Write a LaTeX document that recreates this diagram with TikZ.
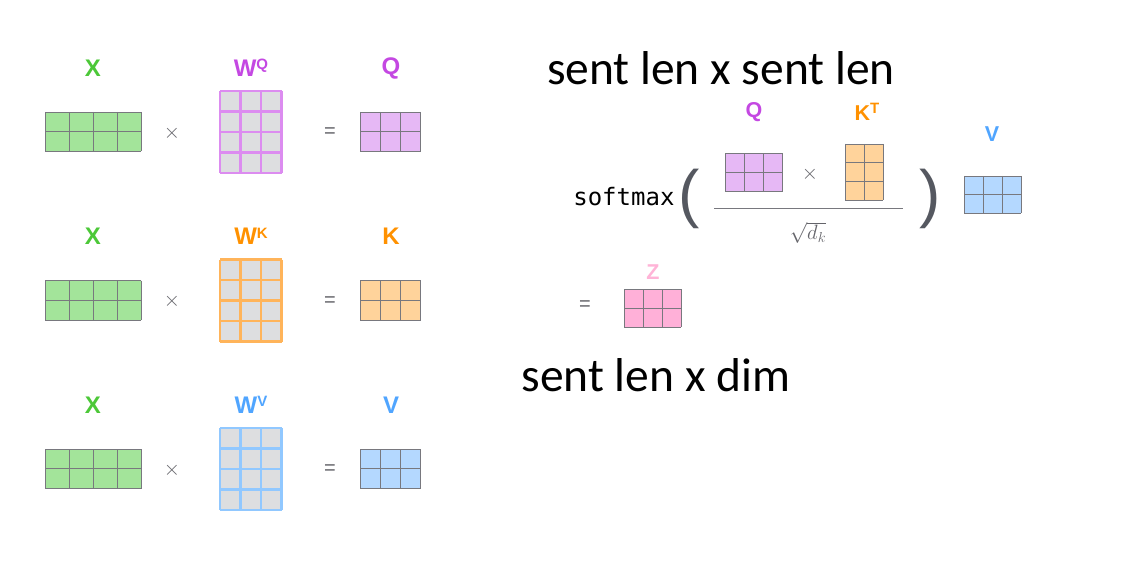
\documentclass[tikz,border=0pt]{standalone}
\usepackage{fontspec}
\setmainfont{Liberation Sans}
\setmonofont{DejaVu Sans Mono}
\newfontfamily\calfont{Carlito}

\definecolor{greenlab}{RGB}{76,200,56}
\definecolor{greenfill}{RGB}{163,228,154}
\definecolor{purplelab}{RGB}{196,72,226}
\definecolor{purplefill}{RGB}{230,184,245}
\definecolor{purpleline}{RGB}{220,140,240}
\definecolor{orangelab}{RGB}{255,145,0}
\definecolor{orangefill}{RGB}{255,211,155}
\definecolor{orangeline}{RGB}{255,180,90}
\definecolor{bluelab}{RGB}{80,165,255}
\definecolor{bluefill}{RGB}{180,216,255}
\definecolor{blueline}{RGB}{145,200,255}
\definecolor{pinklab}{RGB}{255,180,215}
\definecolor{pinkfill}{RGB}{255,176,216}
\definecolor{cellgray}{RGB}{221,222,224}
\definecolor{gridgray}{RGB}{120,120,126}
\definecolor{opgray}{RGB}{100,100,106}
\definecolor{parengray}{RGB}{85,88,96}

% grid of cells: x, y, cols, rows, cell width, cell height, fill, line style
\newcommand{\cellgrid}[8]{%
  \fill[#7] (#1,#2) rectangle ++(#3*#5,#4*#6);
  \foreach \i in {0,...,#3} \draw[#8] (#1+\i*#5,#2) -- ++(0,#4*#6);
  \foreach \j in {0,...,#4} \draw[#8] (#1,#2+\j*#6) -- ++(#3*#5,0);
}

\tikzset{
  biglab/.style={font=\fontsize{24}{24}\selectfont\bfseries},
  smalllab/.style={font=\fontsize{21.5}{21.5}\selectfont\bfseries},
  oper/.style={text=opgray, font=\fontsize{20}{20}\selectfont},
  paren/.style={text=parengray, font=\fontsize{64}{64}\selectfont},
  datagrid/.style={gridgray, line width=0.9pt},
  weightgrid/.style={line width=2.4pt}
}

\newcommand{\supr}[1]{\raisebox{6.5pt}{\fontsize{15}{15}\selectfont #1}}

\begin{document}
\begin{tikzpicture}[x=1pt, y=-1pt]
\useasboundingbox (0,0) rectangle (1131,564);

% Row 1: X times WQ
\node[biglab, text=greenlab] (x1) at (93,68) {X};
\node[biglab, text=purplelab] (wq) at (251,68) {W\supr{Q}};
\node[biglab, text=purplelab] (q1) at (391,68) {Q};
\cellgrid{45}{112}{4}{2}{24}{19.75}{greenfill}{datagrid}
\node[oper] (times1) at (172,133) {$\times$};
\cellgrid{220}{91}{3}{4}{20.5}{20.5}{cellgray}{weightgrid, purpleline}
\node[oper] (eq1) at (330,133) {=};
\cellgrid{360}{112}{3}{2}{20.2}{19.75}{purplefill}{datagrid}

% Row 2: X times WK
\node[biglab, text=greenlab] (x2) at (93,236.5) {X};
\node[biglab, text=orangelab] (wk) at (251,236.5) {W\supr{K}};
\node[biglab, text=orangelab] (k2) at (391,236.5) {K};
\cellgrid{45}{280.5}{4}{2}{24}{19.75}{greenfill}{datagrid}
\node[oper] (times2) at (172,301.5) {$\times$};
\cellgrid{220}{259.5}{3}{4}{20.5}{20.5}{cellgray}{weightgrid, orangeline}
\node[oper] (eq2) at (330,301.5) {=};
\cellgrid{360}{280.5}{3}{2}{20.2}{19.75}{orangefill}{datagrid}

% Row 3: X times WV
\node[biglab, text=greenlab] (x3) at (93,405) {X};
\node[biglab, text=bluelab] (wv) at (251,405) {W\supr{V}};
\node[biglab, text=bluelab] (v3) at (391,405) {V};
\cellgrid{45}{449}{4}{2}{24}{19.75}{greenfill}{datagrid}
\node[oper] (times3) at (172,470) {$\times$};
\cellgrid{220}{428}{3}{4}{20.5}{20.5}{cellgray}{weightgrid, blueline}
\node[oper] (eq3) at (330,470) {=};
\cellgrid{360}{449}{3}{2}{20.2}{19.75}{bluefill}{datagrid}

% Attention formula
\node[font=\calfont\fontsize{47.5}{47.5}\selectfont] (title1) at (721,68) {sent len x sent len};
\node[font=\ttfamily\fontsize{24}{24}\selectfont, anchor=east] (softmax) at (678,197) {softmax};
\node[paren] (lparen) at (689,199) {(};
\node[paren] (rparen) at (930,199) {)};
\node[smalllab, text=purplelab] (qs) at (754,112) {Q};
\node[smalllab, text=orangelab] (kt) at (867,112) {K\supr{T}};
\cellgrid{725}{153.5}{3}{2}{19}{19}{purplefill}{datagrid}
\node[oper] (times4) at (810,174) {$\times$};
\cellgrid{845}{144}{2}{3}{19}{18.7}{orangefill}{datagrid}
\coordinate (fracl) at (714,208);
\coordinate (fracr) at (903,208);
\draw[gridgray, line width=0.9pt] (fracl) -- (fracr);
\node[text=opgray, font=\fontsize{22}{22}\selectfont] (sqrtdk) at (808,233) {$\sqrt{d_k}$};
\node[smalllab, text=bluelab] (vs) at (992,134) {V};
\cellgrid{964}{176}{3}{2}{19}{18.7}{bluefill}{datagrid}

% Result Z
\node[oper] (eq4) at (585,306) {=};
\node[smalllab, text=pinklab] (z) at (653,272) {Z};
\cellgrid{624}{289}{3}{2}{19}{19}{pinkfill}{datagrid}
\node[font=\calfont\fontsize{47.5}{47.5}\selectfont] (title2) at (656,375) {sent len x dim};

\end{tikzpicture}
\end{document}
